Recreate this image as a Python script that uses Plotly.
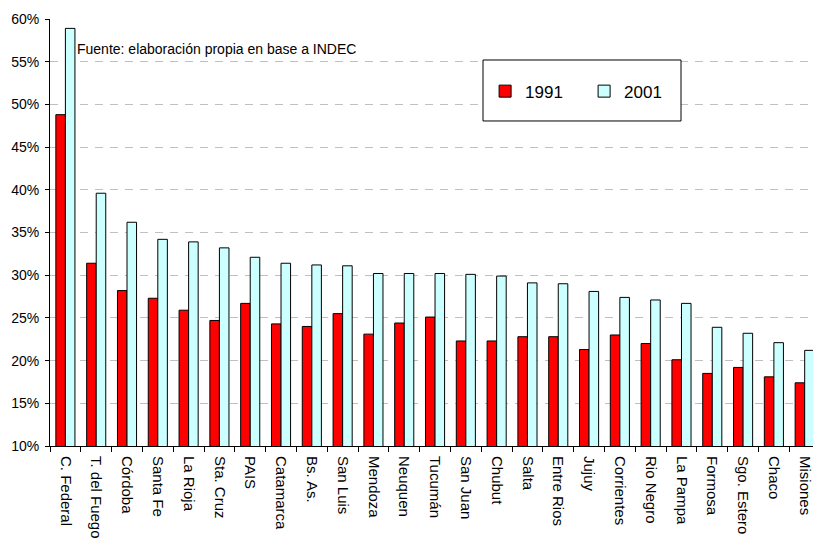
import plotly.graph_objects as go

provincias = ["C. Federal", "T. del Fuego", "Córdoba", "Santa Fe", "La Rioja", "Sta. Cruz",
              "PAIS", "Catamarca", "Bs. As.", "San Luis", "Mendoza", "Neuquen", "Tucumán",
              "San Juan", "Chubut", "Salta", "Entre Rios", "Jujuy", "Corrientes",
              "Rio Negro", "La Pampa", "Formosa", "Sgo. Estero", "Chaco", "Misiones"]
valores_1991 = [48.8, 31.4, 28.2, 27.3, 25.9, 24.7, 26.7, 24.3, 24.0, 25.5, 23.1, 24.4, 25.1,
                22.3, 22.3, 22.8, 22.8, 21.3, 23.0, 22.0, 20.1, 18.5, 19.2, 18.1, 17.4]
valores_2001 = [58.9, 39.6, 36.2, 34.2, 33.9, 33.2, 32.1, 31.4, 31.2, 31.1, 30.2, 30.2, 30.2,
                30.1, 29.9, 29.1, 29.0, 28.1, 27.4, 27.1, 26.7, 23.9, 23.2, 22.1, 21.2]
y_ticks = [10, 15, 20, 25, 30, 35, 40, 45, 50, 55, 60]

FONT = "Liberation Sans, Arial, sans-serif"

fig = go.Figure()
fig.add_trace(go.Bar(name="1991", x=provincias, y=valores_1991,
                     marker=dict(color="#FF0000", line=dict(color="black", width=1))))
fig.add_trace(go.Bar(name="2001", x=provincias, y=valores_2001,
                     marker=dict(color="#CCFFFF", line=dict(color="black", width=1))))

fig.update_layout(
    width=813, height=538,
    margin=dict(l=50, r=0, t=19, b=92),
    paper_bgcolor="white", plot_bgcolor="white",
    barmode="group", bargap=0.38, bargroupgap=0,
    font=dict(family=FONT, size=14, color="black"),
    showlegend=True,
    legend=dict(orientation="h", x=0.70, y=0.83, xanchor="center", yanchor="middle",
                bgcolor="rgba(0,0,0,0)", borderwidth=0, entrywidth=54,
                font=dict(size=17, family=FONT), itemwidth=30),
)

fig.update_xaxes(
    range=[-0.5, 24.27], tickangle=90, tickson="boundaries",
    ticks="outside", ticklen=5, tickcolor="black",
    showline=True, linecolor="black", linewidth=1, ticklabelstandoff=6,
    tickfont=dict(size=15, family=FONT), showgrid=False,
)
fig.update_yaxes(
    range=[10, 60], tickvals=y_ticks, ticktext=[f"{v}%" for v in y_ticks],
    ticks="outside", ticklen=4, tickcolor="black",
    showline=True, linecolor="black", linewidth=1, ticklabelstandoff=3,
    showgrid=True, gridcolor="#c0c0c0", griddash="8px,7px", gridwidth=1,
    tickfont=dict(size=14, family=FONT), zeroline=False,
)

# Legend frame
fig.add_shape(type="rect", xref="paper", yref="y", x0=0.5675, x1=0.827, y0=48.06, y1=55.2,
              line=dict(color="black", width=1), fillcolor="white", layer="above")

fig.add_annotation(text="Fuente: elaboración propia en base a INDEC", xref="paper", yref="y",
                   x=0.0328, y=56.5, xanchor="left", yanchor="middle", showarrow=False,
                   font=dict(size=14, family=FONT, color="black"))

fig.write_html("out.html")
